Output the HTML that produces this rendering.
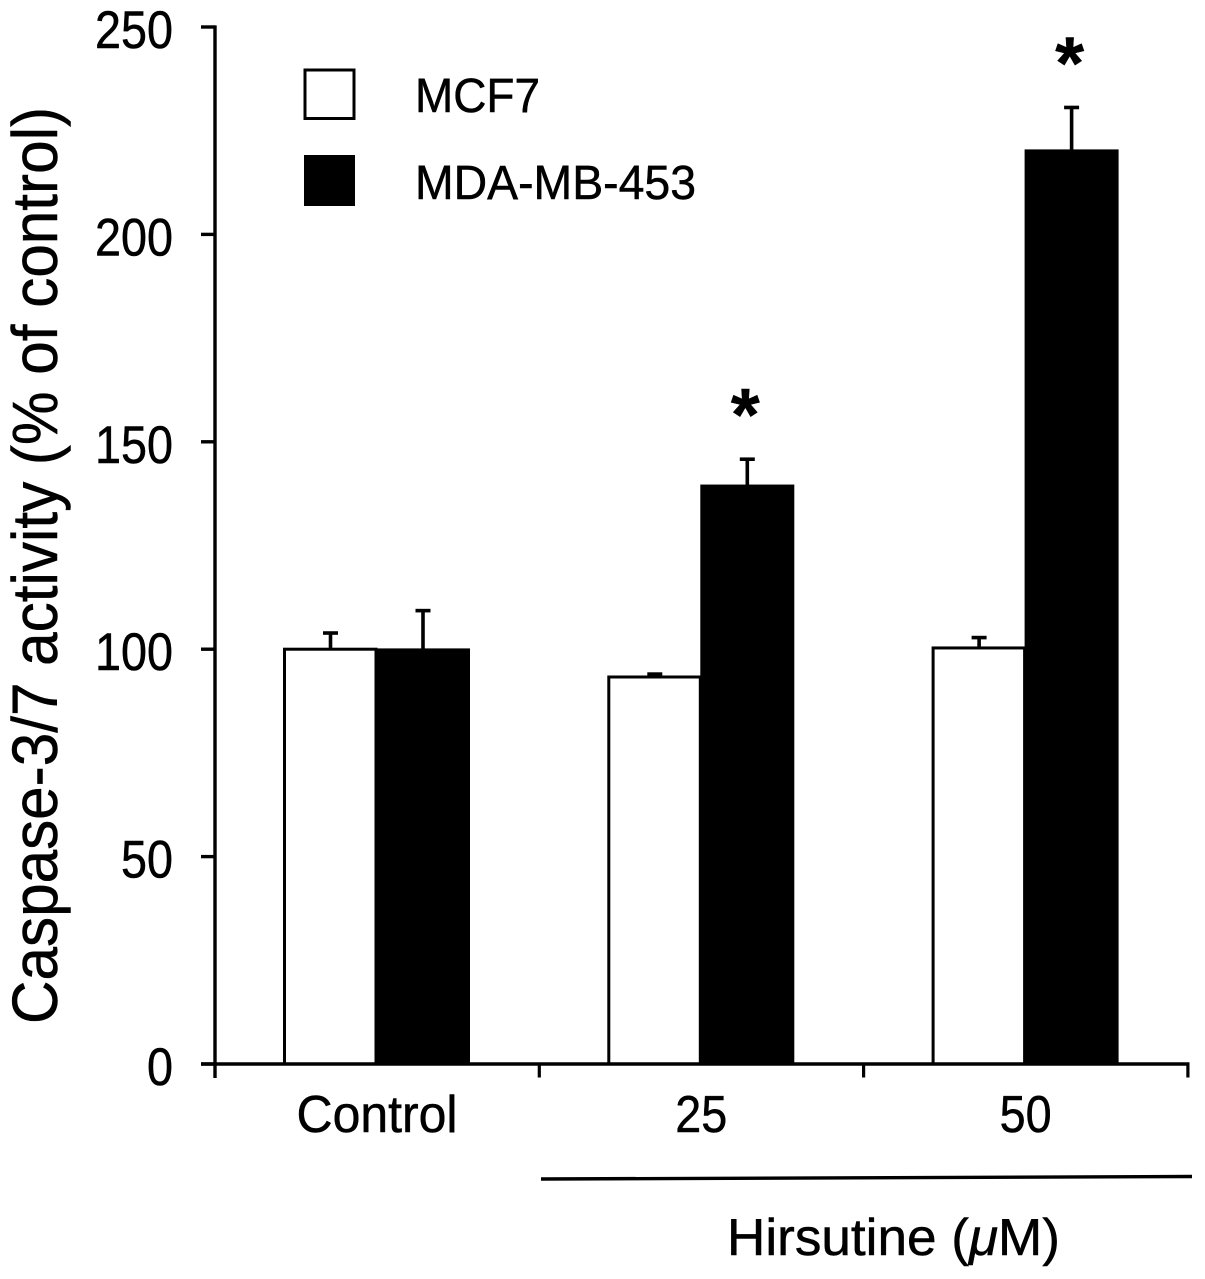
<!DOCTYPE html>
<html>
<head>
<meta charset="utf-8">
<title>Caspase-3/7 activity chart</title>
<style>
html,body{margin:0;padding:0;background:#fff;width:1205px;height:1279px;overflow:hidden}
svg{display:block}
text{font-family:"Liberation Sans",sans-serif;fill:#000;stroke:#000;stroke-width:0.5px}
</style>
</head>
<body>
<svg id="chart" xmlns="http://www.w3.org/2000/svg" width="1205" height="1279" viewBox="0 0 1205 1279">
  <rect width="1205" height="1279" fill="#fff"/>
  <g id="bars"></g>
  <g id="errors"></g>
  <g id="axes"></g>
  <g id="labels"></g>
  <g id="stars"></g>

  <g>
    <rect x="305" y="70" width="49" height="48.5" fill="#fff" stroke="#000" stroke-width="3"/>
    <text x="415" y="112" font-size="48" textLength="125" lengthAdjust="spacingAndGlyphs">MCF7</text>
    <rect x="304" y="155" width="51" height="51" fill="#000"/>
    <text x="415" y="199" font-size="48" textLength="281" lengthAdjust="spacingAndGlyphs">MDA-MB-453</text>
  </g>

  <text transform="translate(57,1024) rotate(-90)" font-size="64" textLength="917" lengthAdjust="spacingAndGlyphs">Caspase-3/7 activity (% of control)</text>

  <line x1="541" y1="1179" x2="1192" y2="1176.5" stroke="#000" stroke-width="3.4"/>
  <text x="727" y="1255" font-size="52" textLength="333" lengthAdjust="spacingAndGlyphs">Hirsutine (<tspan font-style="italic">μ</tspan>M)</text>
</svg>

<script>
const categories = ['Control', '25', '50'];
const mcf7Values = [100, 93.3, 100.3];
const mdaValues = [100, 139.5, 220.3];
const mcf7Errors = [3.9, 0.7, 2.5];
const mdaErrors = [9.3, 6.3, 10.3];
const mcf7Significant = [false, false, false];
const mdaSignificant = [false, true, true];
const yTicks = [0, 50, 100, 150, 200, 250];

const NS = 'http://www.w3.org/2000/svg';
const yBase = 1064, yScale = 4.148;
const xLeft = 215, groupWidth = 324.3;
function yPos(v){ return yBase - v * yScale; }
function groupStart(i){ return xLeft + i * groupWidth; }
function mk(tag, parent, attrs){
  const el = document.createElementNS(NS, tag);
  for (const k in attrs) el.setAttribute(k, attrs[k]);
  parent.appendChild(el);
  return el;
}
const barsG = document.getElementById('bars');
const errorsG = document.getElementById('errors');
const axesG = document.getElementById('axes');
const labelsG = document.getElementById('labels');
const starsG = document.getElementById('stars');

function drawError(cx, value, err, key){
  const stem = mk('line', errorsG, {x1: cx, x2: cx, y1: yPos(value), y2: yPos(value + err), stroke: '#000', 'stroke-width': 3.6});
  
  
  const cap = mk('line', errorsG, {x1: cx - 7.5, x2: cx + 7.5, y1: yPos(value + err), y2: yPos(value + err), stroke: '#000', 'stroke-width': 3.6});
  
  
}
function drawStar(cx, value, err, key){
  const star = mk('text', starsG, {x: cx - 2, y: yPos(value + err) - 19, 'font-size': 74, 'font-weight': 'bold', 'text-anchor': 'middle'});
  
  
  star.textContent = '*';
}

categories.forEach(function(cat, i){
  const g = groupStart(i);
  const key = String(cat).toLowerCase();
  const whiteX = g + 69.5, midX = g + 161, blackEnd = g + 255;

  const white = mk('rect', barsG, {x: whiteX, y: yPos(mcf7Values[i]), width: midX - whiteX, height: yBase - yPos(mcf7Values[i]), fill: '#fff', stroke: '#000', 'stroke-width': 3});
  
  

  const black = mk('rect', barsG, {x: midX, y: yPos(mdaValues[i]) - 0.8, width: blackEnd - midX, height: yBase - yPos(mdaValues[i]) + 0.8, fill: '#000'});
  
  

  drawError(whiteX + 46, mcf7Values[i], mcf7Errors[i], 'mcf7-' + key);
  drawError(midX + 47, mdaValues[i], mdaErrors[i], 'mda-' + key);
  if (mcf7Significant[i]) drawStar(whiteX + 46, mcf7Values[i], mcf7Errors[i], 'mcf7-' + key);
  if (mdaSignificant[i]) drawStar(midX + 47, mdaValues[i], mdaErrors[i], 'mda-' + key);

  const tick = mk('line', axesG, {x1: groupStart(i + 1), x2: groupStart(i + 1), y1: yBase, y2: 1077.5, stroke: '#000', 'stroke-width': 3.2});
  
  

  const label = mk('text', labelsG, {y: 1132, 'font-size': 52, 'text-anchor': 'middle', x: g + 162});
  label.setAttribute('textLength', i === 0 ? 161 : String(cat).length * 26);
  label.setAttribute('lengthAdjust', 'spacingAndGlyphs');
  
  
  label.textContent = cat;
});

const yAxis = mk('line', axesG, {x1: xLeft, x2: xLeft, y1: yPos(250) - 1.6, y2: 1078, stroke: '#000', 'stroke-width': 3.4});



const xAxis = mk('line', axesG, {x1: 201, x2: groupStart(categories.length) + 1.6, y1: yBase, y2: yBase, stroke: '#000', 'stroke-width': 3.4});



yTicks.forEach(function(t){
  const tick = mk('line', axesG, {x1: 201, x2: xLeft, y1: yPos(t), y2: yPos(t), stroke: '#000', 'stroke-width': 3.4});
  
  

  const label = mk('text', labelsG, {x: 173, y: yPos(t) + 21, 'font-size': 53, 'text-anchor': 'end'});
  label.setAttribute('textLength', String(t).length * 26);
  label.setAttribute('lengthAdjust', 'spacingAndGlyphs');
  
  
  label.textContent = t;
});
</script>
</body>
</html>
